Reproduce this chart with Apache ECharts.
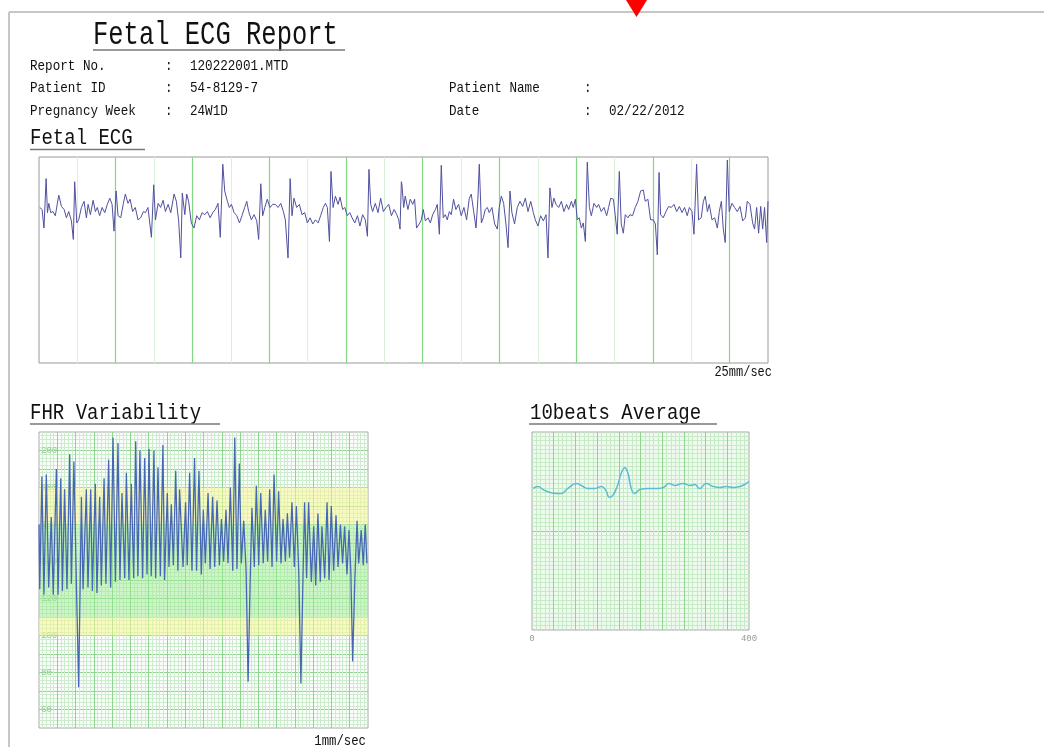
<!DOCTYPE html>
<html><head><meta charset="utf-8">
<script src="https://cdn.jsdelivr.net/npm/echarts@6/dist/echarts.min.js"></script>
<style>html,body{margin:0;padding:0;background:#fff}#c{width:1044px;height:747px}</style>
</head><body><div id="c"></div>
<script>
// ---------- DATA ----------
// Fetal ECG trace (time in ms, amplitude in arbitrary units)
const ecgTimeMs = [4,16,26,37,44,51,61,73,85,103,117,131,143,155,169,179,186,197,207,221,235,247,256,268,282,294,304,316,329,343,356,369,381,391,402,412,426,440,450,464,475,488,502,516,530,544,555,568,586,598,607,621,634,647,659,673,687,704,716,728,739,747,760,770,780,794,808,822,836,850,864,878,892,906,919,933,945,958,968,982,992,1003,1017,1031,1045,1058,1072,1083,1093,1107,1121,1135,1145,1156,1166,1177,1190,1204,1218,1232,1246,1260,1274,1284,1298,1309,1319,1329,1343,1357,1371,1385,1399,1413,1427,1441,1455,1468,1482,1493,1503,1514,1522,1533,1545,1559,1569,1583,1594,1607,1620,1632,1646,1660,1673,1687,1701,1712,1720,1729,1739,1753,1767,1781,1795,1809,1823,1837,1851,1865,1875,1882,1889,1892,1901,1909,1923,1935,1948,1958,1968,1982,1993,2003,2014,2028,2040,2052,2066,2076,2087,2097,2107,2118,2128,2139,2149,2161,2173,2187,2201,2215,2229,2243,2253,2266,2278,2288,2295,2306,2316,2326,2337,2347,2361,2375,2389,2399,2410,2422,2434,2445,2455,2465,2479,2493,2507,2521,2535,2549,2563,2577,2587,2601,2615,2629,2643,2653,2663,2674,2684,2695,2709,2723,2736,2750,2761,2775,2785,2796,2806,2816,2827,2837,2848,2858,2869,2879,2893,2907,2917,2931,2945,2959,2969,2980,2994,3004,3014,3025,3035,3046,3056,3070,3080,3094,3108,3122,3136,3150,3160,3174,3188,3202,3213,3223,3232,3240,3254,3268,3282,3296,3310,3324,3338,3352,3365,3379,3390,3404,3414,3428,3438,3452,3463,3473,3484,3494,3508,3522,3536,3546,3557,3567,3577,3588,3598,3612,3626,3640,3654,3668,3682,3692,3706,3720,3730,3741,3751,3762,3772,3782,3793,3800];
const ecgAmp = [1,-1,-19,29,-4,5,-4,-3,-7,13,2,-1,-9,-3,-12,-30,26,-14,-11,1,7,-9,4,-6,8,-3,1,-7,1,-4,4,10,4,-22,17,-7,-9,5,14,5,9,-3,1,-11,-9,-3,-4,1,-28,23,-11,5,1,8,-3,4,-4,14,7,-12,-48,15,-6,14,7,-14,-19,-7,-11,-4,-6,-3,-9,-4,-1,5,-28,43,17,7,1,4,-4,-7,-14,-7,1,7,-3,-11,-6,-12,-30,24,-7,1,9,1,4,4,1,5,-3,-11,-48,29,-7,10,1,4,-6,-4,-14,-9,-15,-11,-14,-7,1,5,1,-32,36,1,12,4,11,-1,1,-7,-4,-9,-14,-7,-17,-6,-11,-27,38,4,-3,5,-4,10,-3,1,4,-7,-1,-6,-11,-20,26,23,1,12,-1,9,4,9,-19,-15,-11,-1,-12,-9,-14,-6,-1,4,-25,42,-9,-6,-11,-3,-6,9,-1,4,-7,1,-11,10,14,-3,-19,10,43,-14,-9,-1,1,-4,1,-15,-20,1,12,5,-15,-38,17,-4,-15,1,7,2,10,-3,7,-4,-11,-17,-7,-12,-6,-48,20,1,10,4,1,7,-3,4,-1,7,1,9,-11,-9,-19,-14,-32,45,1,-7,5,1,4,-3,1,-7,1,10,9,-7,-25,36,-15,-24,-6,-9,-6,-7,1,7,17,18,7,9,-11,-11,-15,-45,35,-6,-9,-3,2,1,4,-3,2,-4,1,-7,1,-3,-25,43,-11,-9,7,12,-3,4,-11,-9,-19,-3,7,-20,-33,47,-3,5,1,-3,2,-12,-9,7,4,-14,-20,1,-24,2,-20,1,-33,7];

// FHR variability (time in s, heart rate in bpm)
const fhrTimeSec = [0,0.4,1.6,2.7,4.0,5.3,6.7,7.8,9.5,10.4,11.9,12.8,14.0,15.3,16.8,17.7,19.1,20.4,21.7,23.2,24.1,25.9,26.8,28.3,29.2,30.8,31.7,33.2,34.1,35.6,36.6,38.1,39.2,40.5,41.8,43.2,44.3,45.4,46.9,47.8,49.2,50.5,51.8,52.9,54.1,55.2,56.7,57.8,59.1,60.2,61.4,62.9,63.8,65.1,66.4,67.8,68.7,70.2,71.1,72.4,73.5,74.8,76.0,76.9,78.8,80.2,81.1,82.4,83.7,85.1,86.2,87.5,88.8,89.9,91.0,92.5,93.6,95.0,96.1,97.4,98.7,99.8,101.0,102.3,103.4,104.7,106.0,107.1,108.3,109.6,110.7,112.0,113.3,114.4,115.5,116.5,117.8,118.9,120.2,121.3,122.7,123.8,125.1,126.2,127.5,128.6,130.0,131.1,132.4,133.5,134.8,135.9,137.1,138.4,139.7,140.8,142.1,143.3,144.3,145.3,146.4,147.5,149.0,150.3,151.4,152.6,153.9,154.8,156.3,157.6,158.7,159.9,161.2,162.5,163.6,164.9,166.1,167.2,168.5,169.6,170.6,171.6,172.8,174.0,174.9,176.3,177.4,178.5,179.4];
const fhrBpm = [160,125,186,122,187,126,164,122,190,122,185,124,179,125,198,128,194,131,72,175,125,179,126,179,124,182,123,175,127,185,128,195,126,207,129,204,130,177,131,188,130,182,131,205,132,200,131,196,133,201,132,200,131,191,132,203,130,177,137,171,138,189,135,179,137,172,138,188,135,196,135,189,133,168,139,177,136,175,137,173,138,163,140,168,139,180,135,207,136,193,139,162,135,75,128,169,137,181,138,177,139,168,140,179,137,187,140,178,139,163,140,166,142,172,137,170,135,74,125,172,131,172,129,159,127,166,129,159,131,172,130,170,135,165,137,160,139,159,133,157,135,86,130,162,139,157,138,160,139];
const fhrTickLabels = [60,80,100,120,140,160,180,200];
const bandLow  = [110,160,100];
const bandHigh = [160,180,110];
const bandKind = ['normal','caution','caution'];

// 10 beats average (sample index, amplitude)
const avgSample = [2,11,20,33,45,54,66,82,91,103,116,128,136,143,149,157,165,171,177,183,189,199,214,232,242,253,263,278,291,300,309,321,334,346,358,371,383,392,400];
const avgAmp    = [43,45,42,39,38,38,43,48,46,43,43,45,41,34,36,45,59,64,58,43,38,42,43,43,44,48,46,48,46,47,43,48,45,44,45,44,45,47,50];
const avgTickLabels = [0,400];

// report header
const headerLeft  = [['Report No.','120222001.MTD'],['Patient ID','54-8129-7'],['Pregnancy Week','24W1D']];
const headerRight = [['Patient Name',''],['Date','02/22/2012']];

// ---------- CHART ----------
const chart = echarts.init(document.getElementById('c'), null, {renderer:'canvas'});
const MONO = '"Liberation Mono", "DejaVu Sans Mono", monospace';
const bandColor = {normal:'rgba(150,235,140,0.45)', caution:'rgba(248,245,150,0.55)'};

function txt(text, x, y, size, sx, align){
  return {type:'text', x:x, y:y, scaleX:sx, scaleY:1, z:50,
    style:{text:text, font:size+'px '+MONO, fill:'#111',
      textAlign:align||'left', align:align||'left', textVerticalAlign:'middle', verticalAlign:'middle'}};
}
function hline(x1,x2,y,color,w){
  return {type:'line', z:50, shape:{x1:x1,y1:y,x2:x2,y2:y}, style:{stroke:color, lineWidth:w}};
}

const graphics = [
  {type:'line', z:60, shape:{x1:9,y1:12,x2:1044,y2:12}, style:{stroke:'#c6c6c6', lineWidth:2}},
  {type:'line', z:60, shape:{x1:9,y1:12,x2:9,y2:747}, style:{stroke:'#c6c6c6', lineWidth:2}},
  {type:'polygon', z:61, shape:{points:[[626,0],[647,0],[636.5,17]]}, style:{fill:'#ff0000'}},
  txt('Fetal ECG Report', 93, 35, 34, 0.75),
  hline(93,345,50,'#777',1.5),
  txt('Fetal ECG', 30, 138, 22, 0.864),
  hline(30,145,149.5,'#777',1.5),
  txt('FHR Variability', 30, 413, 22, 0.864),
  hline(30,220,424,'#777',1.5),
  txt('10beats Average', 530, 413, 22, 0.864),
  hline(529,717,424,'#777',1.5),
  txt('25mm/sec', 772, 372, 15, 0.8, 'right'),
  txt('1mm/sec', 366, 741, 15, 0.82, 'right')
];
const rowY = [66, 88, 111];
headerLeft.forEach((r,i)=>{
  graphics.push(txt(r[0], 30, rowY[i], 15, 0.84));
  graphics.push(txt(':', 165, rowY[i], 15, 0.84));
  graphics.push(txt(r[1], 190, rowY[i], 15, 0.84));
});
headerRight.forEach((r,i)=>{
  graphics.push(txt(r[0], 449, rowY[i+1], 15, 0.84));
  graphics.push(txt(':', 584, rowY[i+1], 15, 0.84));
  graphics.push(txt(r[1], 609, rowY[i+1], 15, 0.84));
});

const off = {show:false};
function split(color, w){ return {show:true, showMinLine:false, showMaxLine:false, lineStyle:{color:color, width:w||1}}; }
const option = {
  animation:false,
  backgroundColor:'#ffffff',
  grid:[
    {left:39, top:157, width:729, height:206, show:true, borderColor:'#9a9a9a', borderWidth:1, backgroundColor:'#fff'},
    {left:39, top:432, width:329, height:296, show:true, borderColor:'#a8a8a8', borderWidth:1, backgroundColor:'#fafefa'},
    {left:532, top:432, width:217, height:198, show:true, borderColor:'#a8a8a8', borderWidth:1, backgroundColor:'#eefaee'}
  ],
  xAxis:[
    {gridIndex:0, type:'value', position:'bottom', z:0, min:0, max:3800, interval:200, axisLine:off, axisTick:off, axisLabel:off,
      splitLine:split('#d8f1d8')},
    {gridIndex:0, type:'value', position:'top', z:1, min:0, max:3800, interval:400, axisLine:off, axisTick:off, axisLabel:off,
      splitLine:split('#84d684', 1.2)},
    {gridIndex:1, type:'value', min:0, max:180, interval:10, axisLine:off, axisTick:off, axisLabel:off,
      splitLine:split('#8ed68e'),
      minorTick:{show:false, splitNumber:5}, minorSplitLine:{show:true, lineStyle:{color:'#cdeccd', width:1}}},
    {gridIndex:2, type:'value', min:0, max:400, interval:40, axisLine:off, axisTick:off,
      axisLabel:{show:true, color:'#999', fontSize:9, margin:4, fontFamily:MONO,
        formatter:v=>avgTickLabels.includes(v)?String(v):''},
      splitLine:split('#8ed68e'),
      minorTick:{show:false, splitNumber:5}, minorSplitLine:{show:true, lineStyle:{color:'#c6eac6', width:1}}}
  ],
  yAxis:[
    {gridIndex:0, type:'value', min:-150, max:50, axisLine:off, axisTick:off, axisLabel:off, splitLine:off},
    {gridIndex:1, type:'value', min:50, max:210, interval:10, axisLine:off, axisTick:off,
      axisLabel:{show:true, inside:true, color:'#94cc94', fontSize:9, margin:2, fontFamily:MONO,
        formatter:v=>fhrTickLabels.includes(v)?String(v):''},
      splitLine:split('#8ed68e'),
      minorTick:{show:false, splitNumber:5}, minorSplitLine:{show:true, lineStyle:{color:'#cdeccd', width:1}}},
    {gridIndex:2, type:'value', min:-100, max:100, interval:100, axisLine:off, axisTick:off, axisLabel:off,
      splitLine:split('#8ed68e'),
      minorTick:{show:false, splitNumber:23}, minorSplitLine:{show:true, lineStyle:{color:'#c6eac6', width:1}}}
  ],
  series:[
    {type:'line', xAxisIndex:0, yAxisIndex:0, z:3, showSymbol:false, symbol:'none',
      data: ecgTimeMs.map((t,i)=>[t, ecgAmp[i]]),
      lineStyle:{color:'#50509f', width:1}},
    {type:'line', xAxisIndex:2, yAxisIndex:1, showSymbol:false, symbol:'none',
      data: fhrTimeSec.map((t,i)=>[t, fhrBpm[i]]),
      lineStyle:{color:'#4767b4', width:1.3},
      markArea:{silent:true, data: bandLow.map((lo,i)=>[
        {yAxis:lo, itemStyle:{color:bandColor[bandKind[i]]}}, {yAxis:bandHigh[i]}])}},
    {type:'line', xAxisIndex:3, yAxisIndex:2, showSymbol:false, symbol:'none', smooth:true,
      data: avgSample.map((t,i)=>[t, avgAmp[i]]),
      lineStyle:{color:'#5bbcd8', width:1.5}}
  ],
  graphic: graphics
};
chart.setOption(option);
</script></body></html>
